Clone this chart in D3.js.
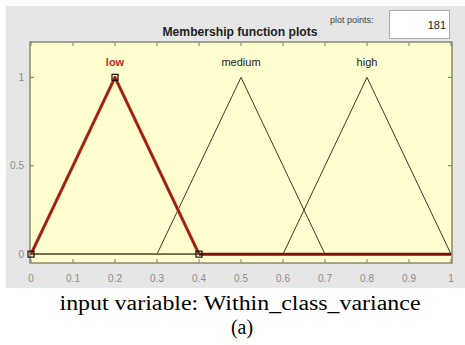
<!DOCTYPE html>
<html>
<head>
<meta charset="utf-8">
<script src="https://cdn.jsdelivr.net/npm/d3@7"></script>
<style>
  body { margin: 0; background: #fff; }
  svg { display: block; }
</style>
</head>
<body>
<svg id="chart" width="465" height="345"></svg>
<script>
// membership functions (triangles) of the input variable
const mfNames = ["low", "medium", "high"];
const mfParams = [[0, 0.2, 0.4], [0.3, 0.5, 0.7], [0.6, 0.8, 1.0]];
const xTicks = [0, 0.1, 0.2, 0.3, 0.4, 0.5, 0.6, 0.7, 0.8, 0.9, 1];
const yTicks = [0, 0.5, 1];
const plotPoints = 181;
const selected = 0;

const svg = d3.select("#chart");
const W = 465, H = 345;
const plotL = 30, plotR = 452, plotT = 42, plotB = 263;

// grey panel
svg.append("rect")
  .attr("x", 6).attr("y", 6)
  .attr("width", W - 6).attr("height", 282)
  .attr("fill", "#e6e6e6");

const x = d3.scaleLinear().domain([0, 1]).range([plotL + 1, plotR - 1]);
const y = d3.scaleLinear().domain([-0.05, 1.2]).range([plotB, plotT]);

// plot area
svg.append("rect")
  .attr("x", plotL).attr("y", plotT)
  .attr("width", plotR - plotL).attr("height", plotB - plotT)
  .attr("fill", "#ffffcf")
  .attr("stroke", "#8a8a6a")
  .attr("stroke-width", 1.5);

// ticks inside the box
const tickCol = "#777";
xTicks.forEach(t => {
  svg.append("line").attr("x1", x(t)).attr("x2", x(t))
    .attr("y1", plotB).attr("y2", plotB - 4).attr("stroke", tickCol);
  svg.append("line").attr("x1", x(t)).attr("x2", x(t))
    .attr("y1", plotT).attr("y2", plotT + 4).attr("stroke", tickCol);
  svg.append("text")
    .attr("x", x(t)).attr("y", 282)
    .attr("text-anchor", "middle")
    .attr("font-family", "Arial, 'Liberation Sans', sans-serif")
    .attr("font-size", 10)
    .attr("fill", "#8c8c8c")
    .text(d3.format("")(t));
});
yTicks.forEach(t => {
  svg.append("line").attr("x1", plotL).attr("x2", plotL + 4)
    .attr("y1", y(t)).attr("y2", y(t)).attr("stroke", tickCol);
  svg.append("line").attr("x1", plotR).attr("x2", plotR - 4)
    .attr("y1", y(t)).attr("y2", y(t)).attr("stroke", tickCol);
  svg.append("text")
    .attr("x", 24).attr("y", y(t) + 3.5)
    .attr("text-anchor", "end")
    .attr("font-family", "Arial, 'Liberation Sans', sans-serif")
    .attr("font-size", 10)
    .attr("fill", "#8c8c8c")
    .text(t);
});

const line = d3.line().x(d => x(d[0])).y(d => y(d[1]));
function mfPoints(p) {
  return [[0, 0], [p[0], 0], [p[1], 1], [p[2], 0], [1, 0]];
}

// unselected functions
mfParams.forEach((p, i) => {
  if (i === selected) return;
  svg.append("path")
    .attr("d", line(mfPoints(p)))
    .attr("fill", "none")
    .attr("stroke", "#3a3a2a")
    .attr("stroke-width", 1);
});
// zero line darker between 0 and the selected foot
svg.append("line")
  .attr("x1", x(0)).attr("x2", x(mfParams[selected][2]))
  .attr("y1", y(0)).attr("y2", y(0))
  .attr("stroke", "#6e6e46").attr("stroke-width", 1.6);

// selected function
const sel = mfParams[selected];
svg.append("path")
  .attr("d", line([[sel[0], 0], [sel[1], 1], [sel[2], 0]]))
  .attr("fill", "none")
  .attr("stroke", "#b8301e")
  .attr("stroke-width", 3.2)
  .attr("stroke-linejoin", "round");
svg.append("path")
  .attr("d", line([[sel[0], 0], [sel[1], 1], [sel[2], 0]]))
  .attr("fill", "none")
  .attr("stroke", "#8a1e10")
  .attr("stroke-width", 1.2);
svg.append("path")
  .attr("d", line([[sel[2], 0], [1, 0]]))
  .attr("fill", "none")
  .attr("stroke", "#7a1408")
  .attr("stroke-width", 3);

// vertex markers
sel.forEach((v, i) => {
  const yy = i === 1 ? 1 : 0;
  svg.append("rect")
    .attr("x", x(v) - 3).attr("y", y(yy) - 3)
    .attr("width", 6).attr("height", 6)
    .attr("fill", "none")
    .attr("stroke", "#111")
    .attr("stroke-width", 1.2);
});

// mf labels
mfNames.forEach((n, i) => {
  svg.append("text")
    .attr("x", x(mfParams[i][1])).attr("y", 66)
    .attr("text-anchor", "middle")
    .attr("font-family", "Arial, 'Liberation Sans', sans-serif")
    .attr("font-size", 11)
    .attr("font-weight", i === selected ? "bold" : "normal")
    .attr("fill", i === selected ? "#c0281c" : "#222")
    .text(n);
});

// title and plot points box
svg.append("text")
  .attr("x", 240).attr("y", 36)
  .attr("text-anchor", "middle")
  .attr("font-family", "Arial, 'Liberation Sans', sans-serif")
  .attr("font-size", 12)
  .attr("font-weight", "bold")
  .attr("fill", "#222")
  .attr("textLength", 155)
  .attr("lengthAdjust", "spacingAndGlyphs")
  .text("Membership function plots");
svg.append("text")
  .attr("x", 330).attr("y", 23)
  .attr("font-family", "Arial, 'Liberation Sans', sans-serif")
  .attr("font-size", 9)
  .attr("fill", "#444")
  .text("plot points:");
svg.append("rect")
  .attr("x", 389.5).attr("y", 10.5)
  .attr("width", 60).attr("height", 28)
  .attr("fill", "#fff")
  .attr("stroke", "#aaa");
svg.append("text")
  .attr("x", 446).attr("y", 29)
  .attr("text-anchor", "end")
  .attr("font-family", "Arial, 'Liberation Sans', sans-serif")
  .attr("font-size", 11)
  .attr("fill", "#222")
  .text(plotPoints);

// caption
svg.append("text")
  .attr("x", 240).attr("y", 310)
  .attr("text-anchor", "middle")
  .attr("font-family", "'Liberation Serif', 'Times New Roman', serif")
  .attr("font-size", 20)
  .attr("fill", "#000")
  .attr("textLength", 361)
  .attr("lengthAdjust", "spacingAndGlyphs")
  .text("input variable: Within_class_variance");
svg.append("text")
  .attr("x", 242).attr("y", 334)
  .attr("text-anchor", "middle")
  .attr("font-family", "'Liberation Serif', 'Times New Roman', serif")
  .attr("font-size", 20)
  .attr("fill", "#000")
  .attr("textLength", 22)
  .attr("lengthAdjust", "spacingAndGlyphs")
  .text("(a)");
</script>
</body>
</html>
